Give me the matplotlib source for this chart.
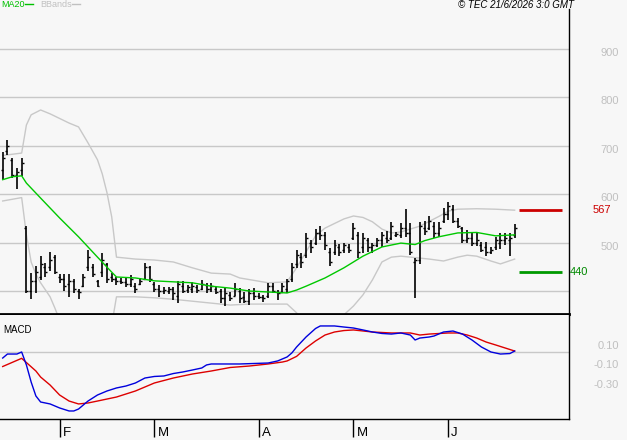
import matplotlib
matplotlib.use('Agg')
import matplotlib.pyplot as plt
from matplotlib.transforms import blended_transform_factory, offset_copy
from matplotlib.lines import Line2D
import numpy as np

plt.rcParams['font.family'] = ['Liberation Sans', 'DejaVu Sans']

# ---------------- data ----------------
opens = [650, 690, 670, 640, 650, 530, 400, 420, 430, 450, 450, 470, 430, 425, 415, 420, 400, 410, 450, 450,
         420, 440, 455, 430, 425, 420, 418, 415, 410, 415, 425, 450, 415, 405, 400, 400, 405, 390, 410, 402,
         405, 408, 405, 412, 405, 405, 400, 385, 392, 390, 400, 388, 380, 395, 390, 388, 390, 410, 398, 398,
         405, 425, 455, 470, 475, 500, 500, 520, 515, 480, 480, 490, 485, 490, 510, 515, 490, 505, 490, 495,
         505, 510, 510, 515, 515, 530, 520, 460, 465, 530, 530, 535, 520, 545, 560, 570, 545, 530, 505, 510,
         500, 495, 490, 480, 490, 500, 505, 505, 515]
highs = [688, 712, 675, 654, 675, 534, 437, 452, 472, 458, 481, 474, 435, 435, 435, 425, 404, 435, 485, 456,
         423, 479, 458, 437, 429, 427, 429, 433, 417, 427, 458, 452, 419, 412, 408, 408, 408, 421, 421, 412,
         419, 412, 423, 417, 417, 408, 404, 408, 398, 417, 406, 398, 404, 406, 396, 392, 417, 417, 402, 417,
         425, 458, 485, 479, 520, 505, 528, 534, 522, 489, 505, 497, 499, 497, 540, 522, 520, 510, 499, 510,
         522, 524, 543, 522, 540, 569, 540, 468, 543, 545, 555, 543, 543, 571, 584, 578, 551, 532, 526, 520,
         520, 501, 501, 491, 512, 520, 520, 520, 538]
lows = [629, 681, 633, 611, 638, 396, 383, 396, 423, 429, 441, 435, 417, 400, 388, 396, 383, 408, 441, 429,
        408, 429, 417, 419, 412, 415, 408, 408, 396, 412, 423, 419, 398, 388, 394, 394, 381, 375, 396, 396,
        396, 396, 402, 396, 398, 394, 375, 369, 379, 390, 375, 375, 371, 381, 383, 377, 386, 396, 381, 396,
        396, 419, 448, 448, 468, 479, 495, 505, 485, 452, 474, 472, 479, 479, 505, 468, 479, 481, 479, 491,
        491, 499, 505, 512, 510, 512, 474, 386, 456, 516, 526, 510, 512, 540, 547, 540, 530, 499, 499, 493,
        493, 481, 472, 476, 485, 487, 495, 472, 510]
closes = [675, 700, 640, 645, 665, 400, 420, 440, 455, 440, 465, 440, 425, 410, 420, 405, 398, 430, 470, 435,
          410, 465, 425, 425, 420, 418, 415, 425, 405, 420, 450, 425, 405, 400, 403, 405, 395, 415, 400, 408,
          410, 402, 415, 405, 410, 398, 385, 395, 385, 405, 385, 380, 395, 390, 388, 385, 410, 400, 395, 410,
          420, 450, 475, 460, 510, 490, 520, 515, 495, 460, 495, 480, 495, 485, 530, 480, 510, 490, 495, 505,
          515, 505, 535, 518, 530, 520, 480, 465, 535, 525, 545, 520, 530, 560, 575, 545, 535, 505, 510, 500,
          505, 485, 480, 485, 505, 505, 510, 510, 530]

ma_idx = [0, 2, 4, 5, 8, 12, 16, 20, 23, 24, 28, 32, 36, 40, 44, 48, 52, 56, 60, 62,
          64, 68, 72, 76, 80, 84, 87, 89, 92, 96, 100, 104, 108]
ma20 = [630, 636, 638, 623, 592, 551, 512, 470, 439, 429, 427, 421, 419, 417, 410, 406, 400, 398, 396, 402,
        410, 427, 448, 472, 491, 499, 496, 504, 512, 520, 521, 514, 516]

bbu_idx = [0, 4, 5, 6, 8, 10, 14, 16, 18, 20, 21, 22, 23, 24, 28, 32, 36, 40, 44, 48,
           50, 56, 60, 62, 64, 66, 68, 72, 74, 76, 78, 80, 82, 84, 88, 92, 94, 96, 100, 104, 108]
bb_upper = [680, 685, 743, 764, 774, 766, 747, 739, 706, 671, 642, 603, 553, 470, 466, 464, 460, 448, 437, 435,
            427, 417, 419, 448, 481, 514, 530, 549, 555, 552, 543, 528, 520, 522, 534, 554, 565, 569, 570, 569, 567]

bbl_idx = [0, 4, 5, 6, 7, 8, 10, 11, 12, 16, 20, 23, 24, 28, 32, 36, 40, 44, 48, 52,
           56, 60, 62, 63, 66, 70, 72, 74, 76, 78, 80, 82, 84, 87, 90, 93, 96, 98, 100, 103, 105, 108]
bb_lower = [586, 593, 516, 460, 435, 417, 388, 365, 340, 290, 280, 330, 388, 388, 386, 383, 379, 375, 371, 373,
            373, 373, 355, 340, 300, 310, 351, 369, 392, 423, 460, 470, 472, 469, 466, 462, 470, 474, 472, 462,
            456, 466]

macd_idx = [0, 1, 3, 4, 5, 6, 7, 8, 10, 12, 14, 15, 16, 17, 18, 20, 22, 24, 26, 28,
            30, 32, 34, 36, 38, 40, 42, 43, 44, 50, 56, 58, 60, 61, 62, 64, 66, 67, 70, 72,
            74, 76, 78, 80, 82, 84, 86, 87, 88, 90, 91, 93, 95, 97, 99, 101, 103, 105, 107, 108]
macd = [-0.067, -0.026, -0.026, -0.005, -0.138, -0.313, -0.456, -0.518, -0.538, -0.579,
        -0.610, -0.610, -0.590, -0.549, -0.508, -0.446, -0.405, -0.374, -0.354, -0.323,
        -0.272, -0.256, -0.251, -0.226, -0.210, -0.190, -0.169, -0.138, -0.128, -0.128,
        -0.118, -0.097, -0.056, -0.015, 0.046, 0.149, 0.236, 0.262, 0.262, 0.251,
        0.241, 0.221, 0.200, 0.185, 0.179, 0.190, 0.169, 0.118, 0.138, 0.149,
        0.159, 0.200, 0.210, 0.179, 0.118, 0.046, -0.005, -0.026, -0.021, 0.005]

sig_idx = [0, 4, 7, 8, 10, 12, 14, 16, 18, 20, 24, 28, 32, 36, 40, 44, 48, 52, 56, 59,
           60, 62, 64, 66, 68, 70, 72, 74, 78, 82, 86, 88, 90, 94, 96, 98, 100, 102, 104, 106, 108]
signal = [-0.154, -0.070, -0.200, -0.262, -0.344, -0.446, -0.508, -0.538, -0.528, -0.508,
          -0.467, -0.405, -0.323, -0.272, -0.231, -0.200, -0.164, -0.149, -0.128, -0.108,
          -0.097, -0.050, 0.036, 0.108, 0.169, 0.200, 0.215, 0.221, 0.200, 0.190,
          0.190, 0.169, 0.179, 0.190, 0.190, 0.169, 0.138, 0.097, 0.067, 0.036, 0.005]

month_idx = [12, 32, 54, 74, 94]
month_labels = ['F', 'M', 'A', 'M', 'J']
price_grid = [900, 800, 700, 600, 500, 400]
price_labels = [900, 800, 700, 600, 500]
macd_grid = [0.0]
macd_labels = [0.10, -0.10, -0.30]
resistance = 567
support = 440

# ---------------- figure ----------------
W, H = 627, 440
BG = '#f7f7f7'
fig = plt.figure(figsize=(W / 100, H / 100), dpi=100, facecolor=BG)

def px_rect(x0, y0, x1, y1):
    return [x0 / W, 1 - y1 / H, (x1 - x0) / W, (y1 - y0) / H]

ax = fig.add_axes(px_rect(0, 9, 569, 314.5), facecolor=BG)
ax2 = fig.add_axes(px_rect(0, 314.5, 569, 419), facecolor=BG)

n = len(closes)
x = np.arange(n)
xlim = (-0.57, 119.47)

# main panel
for g in price_grid:
    ax.axhline(g, color='#c8c8c8', lw=1.0, zorder=0)
ax.plot(bbu_idx, bb_upper, color='#c8c8c8', lw=1.0, zorder=1)
ax.plot(bbl_idx, bb_lower, color='#c8c8c8', lw=1.0, zorder=1)
ax.plot(ma_idx, ma20, color='#00c800', lw=1.0, zorder=3)
ax.vlines(x, lows, highs, color='black', lw=1.2, zorder=2)
ax.hlines(opens, x - 0.42, x, color='black', lw=1.0, zorder=2)
ax.hlines(closes, x, x + 0.42, color='black', lw=1.0, zorder=2)

ax.hlines([resistance], n - 0.1, n + 9, color='#cc0000', lw=2.0, zorder=3)
ax.hlines([support], n - 0.1, n + 9, color='#009900', lw=2.0, zorder=3)

ax.set_xlim(*xlim)
ax.set_ylim(351.5, 982.6)
ax.set_xticks([])
ax.set_yticks([])
for s in ['top', 'left']:
    ax.spines[s].set_visible(False)
ax.spines['right'].set_color('black')
ax.spines['right'].set_linewidth(1.0)
ax.spines['bottom'].set_color('black')
ax.spines['bottom'].set_linewidth(2.0)

tr = blended_transform_factory(ax.transAxes, ax.transData)
tr_lab = offset_copy(tr, fig=fig, x=0, y=-4, units='dots')
for v in price_labels:
    ax.text(619 / 569, v, f'{v}', transform=tr_lab, ha='right', va='center',
            fontsize=8, color='#c0c0c0', clip_on=False)
ax.text(593 / 569, resistance, f'{resistance}', transform=tr, ha='left', va='center',
        fontsize=8, color='#cc0000', clip_on=False)
ax.text(570 / 569, support, f'{support}', transform=tr, ha='left', va='center',
        fontsize=8, color='#008800', clip_on=False)

# MACD panel
for g in macd_grid:
    ax2.axhline(g, color='#c8c8c8', lw=1.0, zorder=0)
ax2.plot(sig_idx, signal, color='#dd0000', lw=1.0, zorder=2)
ax2.plot(macd_idx, macd, color='#0000dd', lw=1.0, zorder=3)
ax2.set_xlim(*xlim)
ax2.set_ylim(-0.6923, 0.3795)
ax2.set_yticks([])
for s in ['top', 'left']:
    ax2.spines[s].set_visible(False)
ax2.spines['right'].set_linewidth(1.0)
ax2.spines['bottom'].set_linewidth(1.0)
ax2.set_xticks(month_idx)
ax2.set_xticklabels([])
ax2.tick_params(axis='x', length=13, width=1.0, direction='out', color='black')

tr2 = blended_transform_factory(ax2.transAxes, ax2.transData)
tr2_lab = offset_copy(tr2, fig=fig, x=0, y=-4, units='dots')
for v in macd_labels:
    ax2.text(619 / 569, v, f'{v:.2f}', transform=tr2_lab, ha='right', va='center',
             fontsize=8, color='#c0c0c0', clip_on=False)
ax2.text(0.005, 0.85, 'MACD', transform=ax2.transAxes, ha='left', va='center',
         fontsize=7, color='black')

trm = blended_transform_factory(ax2.transData, ax2.transAxes)
trm_lab = offset_copy(trm, fig=fig, x=3, y=-17, units='dots')
for mi, ml in zip(month_idx, month_labels):
    ax2.text(mi, 0, ml, transform=trm_lab, ha='left', va='baseline',
             fontsize=9.5, color='black', clip_on=False)

# header: legend + copyright
ty = 1 - 4.5 / H
fig.text(1 / W, ty, 'MA20', color='#00c000', fontsize=6.5, ha='left', va='center')
fig.add_artist(Line2D([25 / W, 33 / W], [ty, ty], color='#00c000', lw=1.0, transform=fig.transFigure))
fig.text(40 / W, ty, 'BBands', color='#c0c0c0', fontsize=6.5, ha='left', va='center')
fig.add_artist(Line2D([72 / W, 80 / W], [ty, ty], color='#c0c0c0', lw=1.0, transform=fig.transFigure))
fig.text(574 / W, ty, '\u00a9 TEC 21/6/2026 3:0 GMT', color='black', fontsize=7, style='italic',
         ha='right', va='center')

fig.savefig('out.png', dpi=100, facecolor=BG)
